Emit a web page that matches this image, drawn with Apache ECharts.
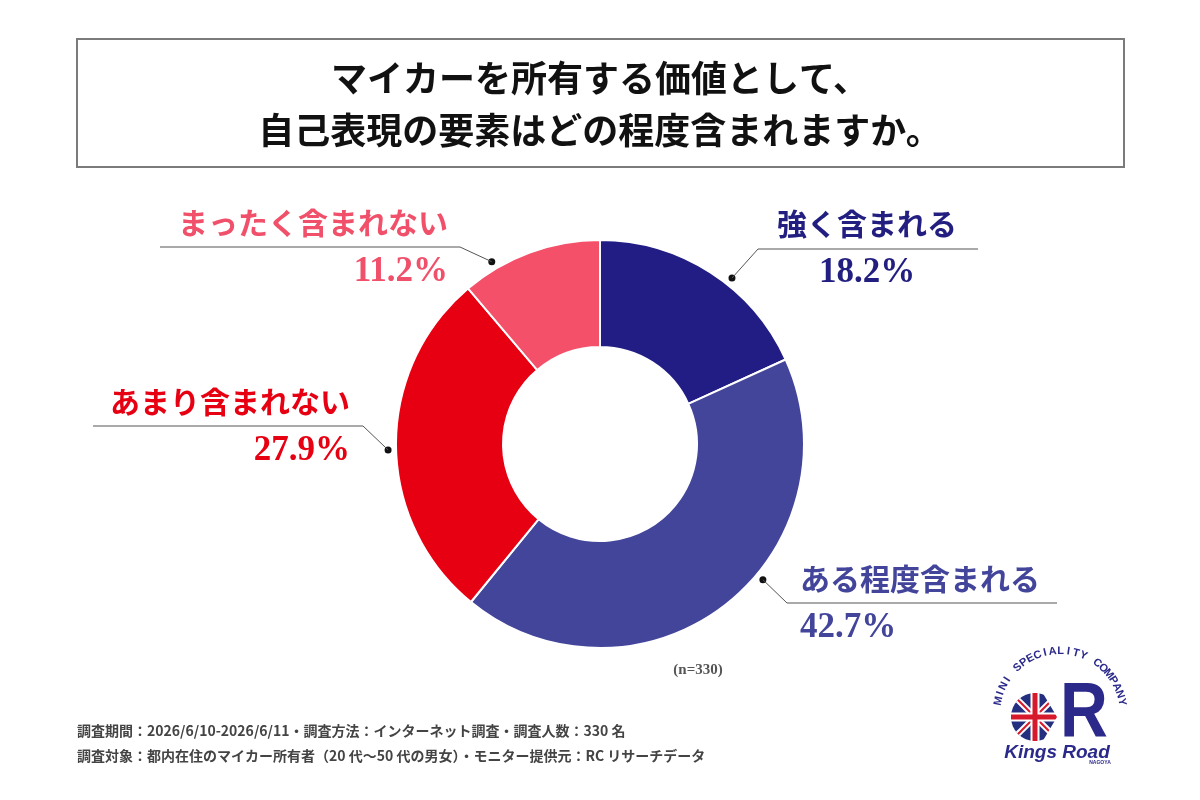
<!DOCTYPE html>
<html><head><meta charset="utf-8">
<script src="https://cdn.jsdelivr.net/npm/echarts@6/dist/echarts.min.js"></script>
<style>html,body{margin:0;padding:0;background:#fff}#chart{width:1200px;height:800px}</style>
</head><body><div id="chart"></div>
<script>
// ---- data ----
const categories = ['強く含まれる', 'ある程度含まれる', 'あまり含まれない', 'まったく含まれない'];
const values = [18.2, 42.7, 27.9, 11.2];
const sliceColors = ['#211d84', '#43459b', '#e60012', '#f4506a'];
const labelColors = ['#231f81', '#43459b', '#e60012', '#f0506a'];
const titleLines = ['マイカーを所有する価値として、', '自己表現の要素はどの程度含まれますか。'];
const sampleNote = '(n=330)';
const footerLines = [
  '調査期間：2026/6/10-2026/6/11・調査方法：インターネット調査・調査人数：330 名',
  '調査対象：都内在住のマイカー所有者（20 代～50 代の男女）・モニター提供元：RC リサーチデータ'
];
const logoArcText = 'MINI SPECIALITY COMPANY';
const logoName = 'Kings Road';
const logoCity = 'NAGOYA';

// ---- layout ----
const PIE_C = [600, 444], R_IN = 97, R_OUT = 204;
const labelLayouts = [
  { x: 867, y: 248, align: 'center', dotAngle: 38.5,  elbow: [758, 249], end: [978, 249] },
  { x: 800, y: 603, align: 'left',   dotAngle: 129.8, elbow: [787, 603], end: [1057, 603] },
  { x: 350, y: 426, align: 'right',  dotAngle: 268.4, elbow: [363, 426], end: [93, 426] },
  { x: 448, y: 247, align: 'right',  dotAngle: 329.3, elbow: [460, 247], end: [160, 247] }
];
function dotPoint(l) {
  const a = l.dotAngle * Math.PI / 180, r = R_OUT + 8;
  return [PIE_C[0] + r * Math.sin(a), PIE_C[1] - r * Math.cos(a)];
}

const chart = echarts.init(document.getElementById('chart'));

const JP = "'Noto Sans CJK JP', sans-serif";
const graphics = [
  { type: 'rect', shape: { x: 77, y: 39, width: 1047, height: 128 }, style: { fill: 'none', stroke: '#7b7b7b', lineWidth: 2 }, silent: true },
  { type: 'text', x: 600, y: 104, style: { text: titleLines.join('\n'), font: "bold 36px " + JP, lineHeight: 52, fill: '#111', align: 'center', verticalAlign: 'middle' } },
  { type: 'text', x: 698, y: 670, style: { text: sampleNote, font: "bold 15px 'Liberation Serif', serif", fill: '#555', align: 'center', verticalAlign: 'middle' } },
  { type: 'text', x: 77, y: 731, style: { text: footerLines[0], font: "bold 14px " + JP, fill: '#444', verticalAlign: 'middle' } },
  { type: 'text', x: 77, y: 756, style: { text: footerLines[1], font: "bold 14px " + JP, fill: '#444', verticalAlign: 'middle' } }
];
labelLayouts.forEach(l => {
  const p = dotPoint(l);
  graphics.push({ type: 'circle', shape: { cx: p[0], cy: p[1], r: 3.5 }, style: { fill: '#111' }, silent: true });
});

// ---- logo ----
const LC = [1060, 714], LR = 63;
const navy = '#2b2a8a';
const chars = logoArcText.split('');
const a0 = -78, a1 = 79;
chars.forEach((ch, i) => {
  const a = (a0 + (a1 - a0) * i / (chars.length - 1)) * Math.PI / 180;
  graphics.push({ type: 'text', x: LC[0] + LR * Math.sin(a), y: LC[1] - LR * Math.cos(a), rotation: -a,
    style: { text: ch, font: "bold 11px 'Liberation Sans', sans-serif", fill: navy, align: 'center', verticalAlign: 'middle' } });
});
const FC = [1035, 717], FR = 24;
const k = FR * Math.SQRT1_2;
graphics.push({ type: 'circle', shape: { cx: FC[0], cy: FC[1], r: FR }, style: { fill: '#24307f' } });
graphics.push({ type: 'line', shape: { x1: FC[0] - k, y1: FC[1] - k, x2: FC[0] + k, y2: FC[1] + k }, style: { stroke: '#fff', lineWidth: 6 } });
graphics.push({ type: 'line', shape: { x1: FC[0] - k, y1: FC[1] + k, x2: FC[0] + k, y2: FC[1] - k }, style: { stroke: '#fff', lineWidth: 6 } });
graphics.push({ type: 'line', shape: { x1: FC[0] - k, y1: FC[1] - k, x2: FC[0] + k, y2: FC[1] + k }, style: { stroke: '#d71a2b', lineWidth: 2 } });
graphics.push({ type: 'line', shape: { x1: FC[0] - k, y1: FC[1] + k, x2: FC[0] + k, y2: FC[1] - k }, style: { stroke: '#d71a2b', lineWidth: 2 } });
graphics.push({ type: 'line', shape: { x1: FC[0] - FR, y1: FC[1], x2: FC[0] + FR, y2: FC[1] }, style: { stroke: '#fff', lineWidth: 9 } });
graphics.push({ type: 'line', shape: { x1: FC[0], y1: FC[1] - FR, x2: FC[0], y2: FC[1] + FR }, style: { stroke: '#fff', lineWidth: 9 } });
graphics.push({ type: 'line', shape: { x1: FC[0] - FR, y1: FC[1], x2: FC[0] + FR, y2: FC[1] }, style: { stroke: '#d71a2b', lineWidth: 5 } });
graphics.push({ type: 'line', shape: { x1: FC[0], y1: FC[1] - FR, x2: FC[0], y2: FC[1] + FR }, style: { stroke: '#d71a2b', lineWidth: 5 } });
graphics.push({ type: 'polygon', shape: { points: [[1041, 690], [1050, 690], [1066, 717], [1050, 744], [1041, 744], [1057, 717]] }, style: { fill: '#fff' } });
graphics.push({ type: 'text', x: 1084, y: 714, scaleX: 0.85, style: { text: 'R', font: "bold 78px 'Liberation Sans', sans-serif", fill: navy, align: 'center', verticalAlign: 'middle' } });
graphics.push({ type: 'text', x: 1057, y: 753, style: { text: logoName, font: "italic bold 19px 'Liberation Sans', sans-serif", fill: navy, align: 'center', verticalAlign: 'middle' } });
graphics.push({ type: 'text', x: 1100, y: 763, style: { text: logoCity, font: "bold 5px 'Liberation Sans', sans-serif", fill: navy, align: 'center', verticalAlign: 'middle' } });

const option = {
  backgroundColor: '#fff',
  animation: false,
  graphic: graphics,
  series: [{
    type: 'pie',
    center: PIE_C,
    radius: [R_IN, R_OUT],
    startAngle: 90,
    clockwise: true,
    avoidLabelOverlap: false,
    itemStyle: { borderColor: '#fff', borderWidth: 2 },
    emphasis: { disabled: true },
    label: {
      show: true,
      position: 'outside',
      formatter: p => '{n|' + p.name + '}\n{p|' + p.value.toFixed(1) + '%}',
      rich: {
        n: { fontFamily: JP, fontSize: 30, fontWeight: 'bold', lineHeight: 49 },
        p: { fontFamily: "'Liberation Serif', serif", fontSize: 35, fontWeight: 'bold', lineHeight: 49 }
      }
    },
    labelLine: { show: true, lineStyle: { color: '#555', width: 1 } },
    labelLayout: function (params) {
      const l = labelLayouts[params.dataIndex];
      return {
        x: l.x, y: l.y, align: l.align, verticalAlign: 'middle',
        labelLinePoints: [dotPoint(l), l.elbow, l.end]
      };
    },
    data: categories.map((c, i) => ({
      name: c, value: values[i],
      itemStyle: { color: sliceColors[i] },
      label: { color: labelColors[i] }
    }))
  }]
};
chart.setOption(option);
</script></body></html>
